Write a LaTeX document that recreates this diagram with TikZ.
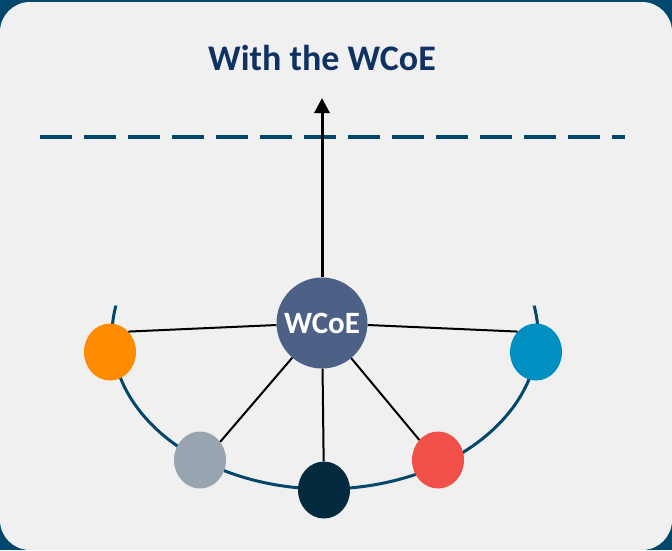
\documentclass[tikz,border=0pt]{standalone}
\usepackage{fontspec}
\setmainfont{Carlito}
\usepackage{tikz}
\usetikzlibrary{arrows.meta,shapes.geometric}
\definecolor{frameblue}{HTML}{03486C}
\definecolor{panelgrey}{HTML}{F0F0F0}
\definecolor{titleblue}{HTML}{0F3262}
\definecolor{hubblue}{HTML}{4D6187}
\definecolor{dotorange}{HTML}{FF8C00}
\definecolor{dotgrey}{HTML}{98A4B0}
\definecolor{dotnavy}{HTML}{042A3E}
\definecolor{dotred}{HTML}{F05048}
\definecolor{dotblue}{HTML}{008FC1}

\begin{document}
\begin{tikzpicture}[x=1pt,y=-1pt]
\tikzstyle{every node}+=[inner sep=0pt]
\tikzstyle{member}=[ellipse, minimum width=52pt, minimum height=57pt]
\tikzstyle{hub}=[circle, minimum size=91pt, fill=hubblue, text=white, font=\bfseries\fontsize{31}{31}\selectfont]
\tikzstyle{spoke}=[black, line width=2pt]
\fill [frameblue] (0,0) rectangle (672,550);
\fill [panelgrey, rounded corners=30pt] (0,2) rectangle (672,550);
\node [text=titleblue, font=\bfseries\fontsize{36}{36}\selectfont] (heading) at (322,58) {With the WCoE};
\coordinate (lineL) at (40,137);
\coordinate (lineR) at (625,137);
\draw [frameblue, line width=4pt, dash pattern=on 32pt off 12pt] (lineL) -- (lineR);
\draw [frameblue, line width=3pt] (325,335) ++(-11:213 and 154) arc [start angle=-11, end angle=191, x radius=213, y radius=154];
\node [hub] (wcoe) at (322,323) {WCoE};
\node [member, fill=dotorange] (orangedot) at (110,352) {};
\node [member, fill=dotgrey] (greydot) at (200,460) {};
\node [member, fill=dotnavy] (navydot) at (324,490) {};
\node [member, fill=dotred] (reddot) at (438,460) {};
\node [member, fill=dotblue] (bluedot) at (536,352) {};
\coordinate (arrowtop) at (322,98);
\draw [black, line width=3pt, -{Triangle[width=15pt,length=15pt]}] (wcoe) -- (arrowtop);
\draw [spoke] (wcoe) -- (orangedot.48);
\draw [spoke] (wcoe) -- (greydot.42);
\draw [spoke] (wcoe) -- (navydot);
\draw [spoke] (wcoe) -- (reddot.133);
\draw [spoke] (wcoe) -- (bluedot.132);
\end{tikzpicture}
\end{document}
